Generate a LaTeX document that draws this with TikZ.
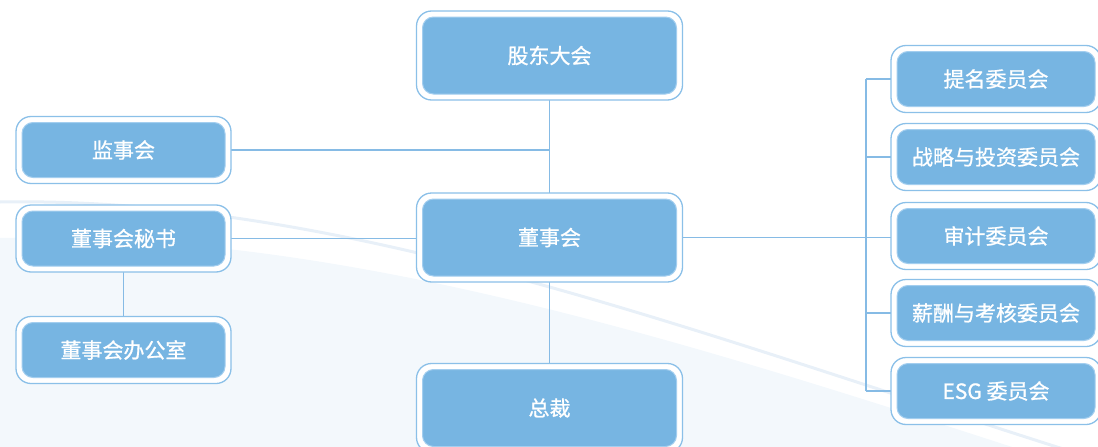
\documentclass[tikz,border=0pt]{standalone}
\usepackage{fontspec}
\newfontfamily\cjk[FakeBold=0.9]{Noto Sans CJK SC}
\usetikzlibrary{backgrounds}
\definecolor{boxfill}{HTML}{77B5E2}
\definecolor{boxrim}{HTML}{A3CEEF}
\definecolor{outerc}{HTML}{8BC0E8}
\definecolor{connc}{HTML}{86BBE5}
\definecolor{bgfill}{HTML}{F3F8FC}
\definecolor{faintc}{HTML}{E8F0F8}
\tikzset{
  orgbox/.style={fill=boxfill, draw=boxrim, line width=1pt, rounded corners=11pt,
    inner sep=0pt, text=white, font=\cjk\fontsize{21}{25}\selectfont},
  bigbox/.style={orgbox, minimum width=254pt, minimum height=77pt},
  leftbox/.style={orgbox, minimum width=203pt, minimum height=55pt},
  rightbox/.style={orgbox, minimum width=198pt, minimum height=55pt},
  conn/.style={draw=connc, line width=1.3pt},
  frame/.style={fill=white, draw=outerc, line width=1.3pt, rounded corners=15pt},
}
\begin{document}
\begin{tikzpicture}[x=1pt,y=-1pt]
\useasboundingbox (0,0) rectangle (1098,447);
% nodes
\node[bigbox] (gd) at (549.5,55.5) {股东大会};
\node[bigbox] (dsh) at (549.5,237.5) {董事会};
\node[bigbox] (zc) at (549.5,408) {总裁};
\node[leftbox] (jsh) at (123.5,150) {监事会};
\node[leftbox] (ms) at (123.5,238.5) {董事会秘书};
\node[leftbox] (bgs) at (123.5,350) {董事会办公室};
\node[rightbox] (tm) at (996,79) {提名委员会};
\node[rightbox] (zl) at (996,157) {战略与投资委员会};
\node[rightbox] (sj) at (996,236) {审计委员会};
\node[rightbox] (xc) at (996,313) {薪酬与考核委员会};
\node[rightbox] (esg) at (996,391) {ESG 委员会};
\coordinate (bx) at (866,237);
\begin{scope}[on background layer]
  % background shapes
  \fill[bgfill] (0,238) .. controls (350,230) and (700,345) .. (1098,475) -- (1098,447) -- (0,447) -- cycle;
  \draw[faintc, line width=3pt] (0,202) .. controls (350,196) and (700,335) .. (1098,460);
  % connectors
  \draw[conn] (gd.south) -- (dsh.north);
  \draw[conn] (jsh.east) -- (jsh.east -| gd.south);
  \draw[conn] (ms.east) -- (ms.east -| dsh.west);
  \draw[conn] (ms.south) -- (bgs.north);
  \draw[conn] (dsh.south) -- (zc.north);
  \draw[conn] (dsh.east) -- (dsh.east -| sj.west);
  \draw[conn] (tm.west -| bx) -- (esg.west -| bx);
  \foreach \n in {tm,zl,xc,esg} \draw[conn] (\n.west -| bx) -- (\n.west);
  % outer frames
  \foreach \n in {gd,dsh,zc,jsh,ms,bgs,tm,zl,sj,xc,esg}
    \draw[frame] ([xshift=-5.5pt,yshift=5.5pt]\n.north west) rectangle ([xshift=5.5pt,yshift=-5.5pt]\n.south east);
\end{scope}
\end{tikzpicture}
\end{document}
